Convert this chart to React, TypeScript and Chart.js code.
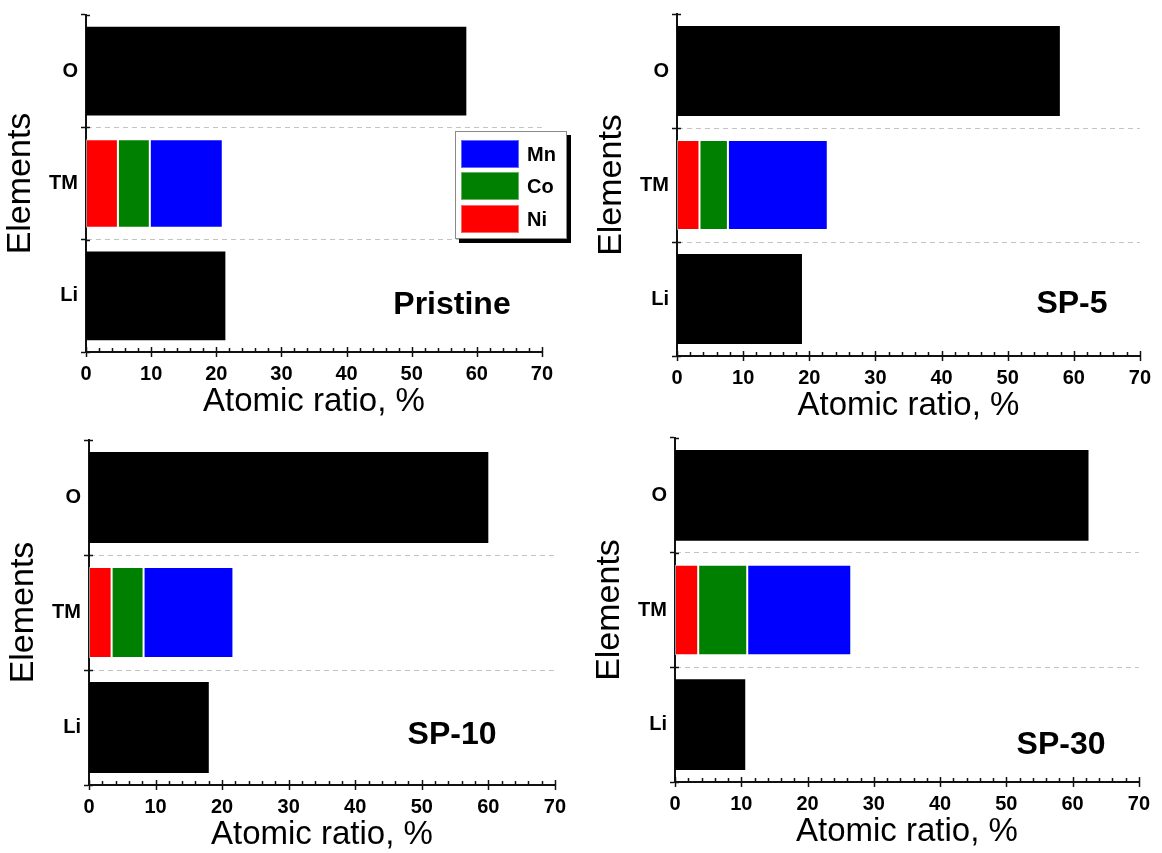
import React, { useEffect, useRef } from 'react';
import { Chart, registerables } from 'chart.js';

Chart.register(...registerables);

// ---- data ----
const categories = ['O', 'TM', 'Li'];
const sampleNames = ['Pristine', 'SP-5', 'SP-10', 'SP-30'];
const oxygen = [58.4, 57.9, 60.0, 62.4];
const lithium = [21.4, 18.9, 18.0, 10.6];
const nickel = [4.9, 3.4, 3.4, 3.5];
const cobalt = [4.9, 4.3, 4.8, 7.4];
const manganese = [11.2, 15.1, 13.5, 15.7];
const legendNames = ['Mn', 'Co', 'Ni'];
const xMin = 0;
const xMax = 70;
const xMajorStep = 10;
const xMinorStep = 2;

// ---- styling / layout ----
const FONT = 'Arial, "Liberation Sans", Helvetica, sans-serif';
const COLORS: Record<string, string> = { Ni: '#ff0000', Co: '#008000', Mn: '#0000ff', Element: '#000000' };
const Y_AXIS_W = 87;
const X_AXIS_H = 70;
const TOP_PAD = 14;
const RIGHT_PAD = 16;

const panels = [
  { L: 86, T: 14.3, R: 547, B: 352.3, tx: 452, ty: 303 },
  { L: 676.5, T: 12.7, R: 1144, B: 355.7, tx: 1072, ty: 302 },
  { L: 89, T: 439.3, R: 559.5, B: 785, tx: 452, ty: 733 },
  { L: 674.7, T: 436.7, R: 1143.5, B: 781.7, tx: 1061, ty: 743 },
];

const tickMarksPlugin = {
  id: 'tickMarks',
  afterDraw(chart: any) {
    const { ctx, chartArea, scales } = chart;
    const x = scales.x;
    const y = scales.y;
    const y0 = chartArea.bottom;
    const x0 = chartArea.left;
    ctx.save();
    ctx.strokeStyle = '#111';
    ctx.lineWidth = 1.5;
    ctx.beginPath();
    for (let v = xMin; v <= xMax + 1e-9; v += xMinorStep) {
      const px = Math.round(x.getPixelForValue(v)) + 0.5;
      if (Math.abs(v % xMajorStep) < 1e-9) {
        ctx.moveTo(px, y0 - 5);
        ctx.lineTo(px, y0 + 5);
      } else {
        ctx.moveTo(px, y0 - 4);
        ctx.lineTo(px, y0);
      }
    }
    for (let i = 0; i <= categories.length; i++) {
      const py = Math.round(y.getPixelForValue(i - 0.5)) + 0.5;
      ctx.moveTo(x0, py);
      ctx.lineTo(x0 + 4, py);
    }
    ctx.stroke();
    ctx.restore();
  },
};

function Panel({ index }: { index: number }) {
  const ref = useRef<HTMLCanvasElement | null>(null);
  const p = panels[index];
  const left = Math.round(p.L - Y_AXIS_W);
  const top = Math.round(p.T - TOP_PAD);
  const width = Math.round(p.R - p.L + Y_AXIS_W + RIGHT_PAD);
  const height = Math.round(p.B - p.T + TOP_PAD + X_AXIS_H);

  useEffect(() => {
    if (!ref.current) return;
    const colored = (name: string) => ({
      label: name,
      backgroundColor: COLORS[name],
      borderColor: 'rgba(255,255,255,0.55)',
      borderWidth: 1,
      borderSkipped: false as any,
    });
    const chart = new Chart(ref.current, {
      type: 'bar',
      data: {
        labels: categories,
        datasets: [
          { ...colored('Ni'), data: [null, nickel[index], null] },
          { ...colored('Co'), data: [null, cobalt[index], null] },
          { ...colored('Mn'), data: [null, manganese[index], null] },
          { label: 'Element', data: [oxygen[index], null, lithium[index]], backgroundColor: COLORS.Element, borderWidth: 0 },
        ] as any,
      },
      options: {
        indexAxis: 'y',
        responsive: false,
        maintainAspectRatio: false,
        animation: false,
        devicePixelRatio: 1,
        layout: { padding: { left: 0, top: TOP_PAD, right: RIGHT_PAD, bottom: 0 } },
        datasets: { bar: { categoryPercentage: 0.79, barPercentage: 1 } },
        plugins: { legend: { display: false }, tooltip: { enabled: false } },
        scales: {
          x: {
            type: 'linear',
            min: xMin,
            max: xMax,
            stacked: true,
            afterFit: (s: any) => { s.height = X_AXIS_H; },
            ticks: { stepSize: xMajorStep, color: '#000', padding: 10, font: { family: FONT, size: 20, weight: 'bold' } },
            grid: { display: false, drawTicks: false },
            border: { display: true, color: '#111', width: 2 },
            title: {
              display: true,
              text: 'Atomic ratio, %',
              color: '#000',
              font: { family: FONT, size: 33 },
              padding: { top: 0, bottom: 0 },
            },
          },
          y: {
            type: 'category',
            stacked: true,
            afterFit: (s: any) => { s.width = Y_AXIS_W; },
            ticks: { color: '#000', padding: 3, font: { family: FONT, size: 20, weight: 'bold' } },
            grid: {
              color: (c: any) => (c.index === 1 || c.index === 2 ? '#c4c4c4' : 'rgba(0,0,0,0)'),
              lineWidth: 1,
              tickColor: '#111',
              tickLength: 5,
              tickWidth: 1.5,
            },
            border: { display: true, color: '#111', width: 2, dash: [5, 4] },
            title: {
              display: true,
              text: 'Elements',
              color: '#000',
              font: { family: FONT, size: 34 },
              padding: { top: 1, bottom: 0 },
            },
          },
        },
      } as any,
      plugins: [tickMarksPlugin],
    });
    return () => chart.destroy();
  }, [index]);

  return (
    <>
      <canvas
        ref={ref}
        width={width}
        height={height}
        style={{ position: 'absolute', left, top, width, height, display: 'block' }}
      />
      <div
        style={{
          position: 'absolute',
          left: p.tx,
          top: p.ty,
          transform: 'translate(-50%, -50%)',
          fontFamily: FONT,
          fontWeight: 'bold',
          fontSize: 32,
          lineHeight: 1,
          whiteSpace: 'nowrap',
          color: '#000',
        }}
      >
        {sampleNames[index]}
      </div>
    </>
  );
}

function Legend() {
  const rowTops = [8, 40, 73];
  return (
    <div
      style={{
        position: 'absolute',
        left: 455,
        top: 131,
        width: 110,
        height: 106,
        border: '1px solid #8a8a8a',
        background: '#fff',
        boxShadow: '4px 4px 0 #000',
      }}
    >
      {legendNames.map((n, i) => (
        <React.Fragment key={n}>
          <div
            style={{
              position: 'absolute',
              left: 5,
              top: rowTops[i],
              width: 58,
              height: 28,
              background: COLORS[n],
              boxSizing: 'border-box',
              border: '1px solid rgba(255,255,255,0.4)',
            }}
          />
          <div
            style={{
              position: 'absolute',
              left: 71,
              top: rowTops[i] + 14,
              transform: 'translateY(-50%)',
              fontFamily: FONT,
              fontWeight: 'bold',
              fontSize: 20,
              lineHeight: 1,
              color: '#000',
            }}
          >
            {n}
          </div>
        </React.Fragment>
      ))}
    </div>
  );
}

export default function App() {
  return (
    <div style={{ position: 'absolute', left: 0, top: 0, width: 1162, height: 853, background: '#fff', overflow: 'hidden' }}>
      {panels.map((_, i) => (
        <Panel key={i} index={i} />
      ))}
      <Legend />
    </div>
  );
}
